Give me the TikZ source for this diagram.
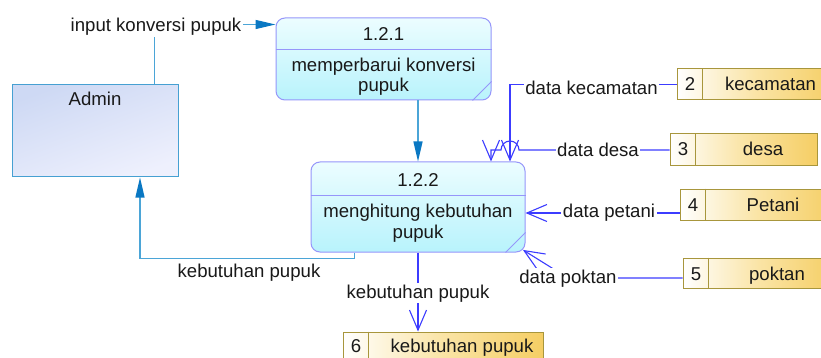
\documentclass[tikz,border=0pt]{standalone}
\usepackage{fontspec}
\setmainfont{Liberation Sans}
\usetikzlibrary{arrows.meta,calc}

\definecolor{procline}{RGB}{150,150,250}
\definecolor{proctop}{RGB}{236,253,255}
\definecolor{procbot}{RGB}{184,243,252}
\definecolor{extline}{RGB}{70,160,210}
\definecolor{exttop}{RGB}{206,217,244}
\definecolor{extbot}{RGB}{238,240,253}
\definecolor{storeline}{RGB}{168,150,60}
\definecolor{storegold}{RGB}{245,206,100}
\definecolor{storemid}{RGB}{250,228,165}
\definecolor{flowblue}{RGB}{60,60,255}
\definecolor{ctrlline}{RGB}{75,165,215}
\definecolor{ctrltip}{RGB}{10,120,195}
\definecolor{ink}{RGB}{25,25,25}

\tikzset{
  txt/.style={font=\fontsize{18.6}{21}\selectfont, text=ink, inner sep=0pt, anchor=base},
  lbl/.style={txt, fill=white, inner sep=1.5pt},
  proc/.style={draw=procline, line width=1pt, rounded corners=9pt,
    top color=proctop, bottom color=procbot, inner sep=0pt},
  ext/.style={draw=extline, line width=1pt, top color=exttop, bottom color=extbot,
    shading angle=20, inner sep=0pt},
  store/.style={draw=storeline, line width=1pt, left color=white, right color=storegold,
    middle color=storemid, inner sep=0pt},
  divider/.style={draw=storeline, line width=1pt},
  rule/.style={draw=procline, line width=1pt},
  ctrl/.style={draw=ctrlline, line width=1.2pt,
    -{Triangle[length=20pt,width=9pt,color=ctrltip]}},
  flow/.style={draw=flowblue, line width=1.1pt,
    -{Straight Barb[length=20pt,width=17pt]}},
}

\begin{document}
\begin{tikzpicture}[x=1pt,y=-1pt]
\useasboundingbox (0,0) rectangle (821,358);
\clip (0,0) rectangle (821,358);
\fill[white] (0,0) rectangle (821,358);

% external entity
\node[ext, minimum width=166pt, minimum height=92pt] (admin) at (95,131) {};
\node[txt] (adminT) at (95,106) {Admin};

% process 1.2.1
\node[proc, minimum width=215pt, minimum height=82pt] (p121) at (383.5,59) {};
\draw[rule] ($(p121.north west)+(0,32)$) -- ($(p121.north east)+(0,32)$);
\draw[rule] ($(p121.south east)+(0,-19)$) -- ($(p121.south east)+(-19,0)$);
\node[txt] (p121n) at (383.5,41) {1.2.1};
\node[txt] (p121a) at (383.5,72) {memperbarui konversi};
\node[txt] (p121b) at (383.5,92) {pupuk};

% process 1.2.2
\node[proc, minimum width=214pt, minimum height=90pt] (p122) at (418,207) {};
\draw[rule] ($(p122.north west)+(0,34)$) -- ($(p122.north east)+(0,34)$);
\draw[rule] ($(p122.south east)+(0,-20)$) -- ($(p122.south east)+(-20,0)$);
\node[txt] (p122n) at (418,186) {1.2.2};
\node[txt] (p122a) at (418,217) {menghitung kebutuhan};
\node[txt] (p122b) at (418,238) {pupuk};

% data stores
\node[store, minimum width=158pt, minimum height=31pt] (s2) at (756,84.5) {};
\node[store, minimum width=147pt, minimum height=32pt] (s3) at (743.5,150) {};
\node[store, minimum width=155pt, minimum height=31pt] (s4) at (757.5,204.5) {};
\node[store, minimum width=152pt, minimum height=30pt] (s5) at (759,273) {};
\node[store, minimum width=200pt, minimum height=32pt] (s6) at (443,348) {};
\foreach \s in {s2,s3,s4,s5,s6}
  \draw[divider] ($(\s.north west)+(26,0)$) -- ($(\s.south west)+(26,0)$);
\node[txt] (s2n) at (690,91) {2};
\node[txt] (s2t) at (770.5,91) {kecamatan};
\node[txt] (s3n) at (683,156) {3};
\node[txt] (s3t) at (763,156) {desa};
\node[txt] (s4n) at (693,211) {4};
\node[txt] (s4t) at (773,211) {Petani};
\node[txt] (s5n) at (696,280) {5};
\node[txt] (s5t) at (777,280) {poktan};
\node[txt] (s6n) at (356,352) {6};
\node[txt] (s6t) at (462,352) {kebutuhan pupuk};

% admin flows
\coordinate (inA) at ($(admin.north west)+(143,0)$);
\coordinate (inB) at ($(p121.north west)+(0,7)$);
\draw[ctrl] (inA) |- (inB);
\node[lbl] (inL) at (156,31.5) {input konversi pupuk};

\draw[ctrl] (p121.south -| p122.north) -- (p122.north);

\coordinate (kA) at ($(p122.south west)+(44,0)$);
\coordinate (kB) at ($(admin.south)+(45,0)$);
\draw[ctrl] (kA) -- ++(0,6) -| (kB);
\node[txt] (kL) at (249,277) {kebutuhan pupuk};

% output to store 6
\draw[flow] (p122.south) -- (s6.north -| p122.south);
\node[lbl] (oL) at (418,298) {kebutuhan pupuk};

% store inputs
\coordinate (kecIn) at ($(p122.north)+(92,0)$);
\draw[flow] (s2.west) -| (kecIn);
\node[lbl] (kecL) at (591.5,95) {data kecamatan};

\coordinate (desaIn) at ($(p122.north)+(73,0)$);
\draw[flow] (s3.west) -- ($(kecIn |- s3.west)+(9,0)$)
  arc[start angle=0,end angle=-180,radius=9] -- (desaIn |- s3.west) -- (desaIn);
\node[lbl] (desaL) at (598,157) {data desa};

\coordinate (petOut) at ($(s4.west)+(0,8.5)$);
\coordinate (petIn) at (p122.east |- petOut);
\draw[flow] (petOut) -- (petIn);
\node[lbl] (petL) at (609,217) {data petani};

\coordinate (pokOut) at ($(s5.west)+(0,5)$);
\coordinate (pokBend) at (568,278);
\coordinate (pokIn) at ($(p122.south east)+(-2.6,-2.6)$);
\draw[flow] (pokOut) -- (pokBend) -- (pokIn);
\node[lbl] (pokL) at (568,283) {data poktan};
\end{tikzpicture}
\end{document}
